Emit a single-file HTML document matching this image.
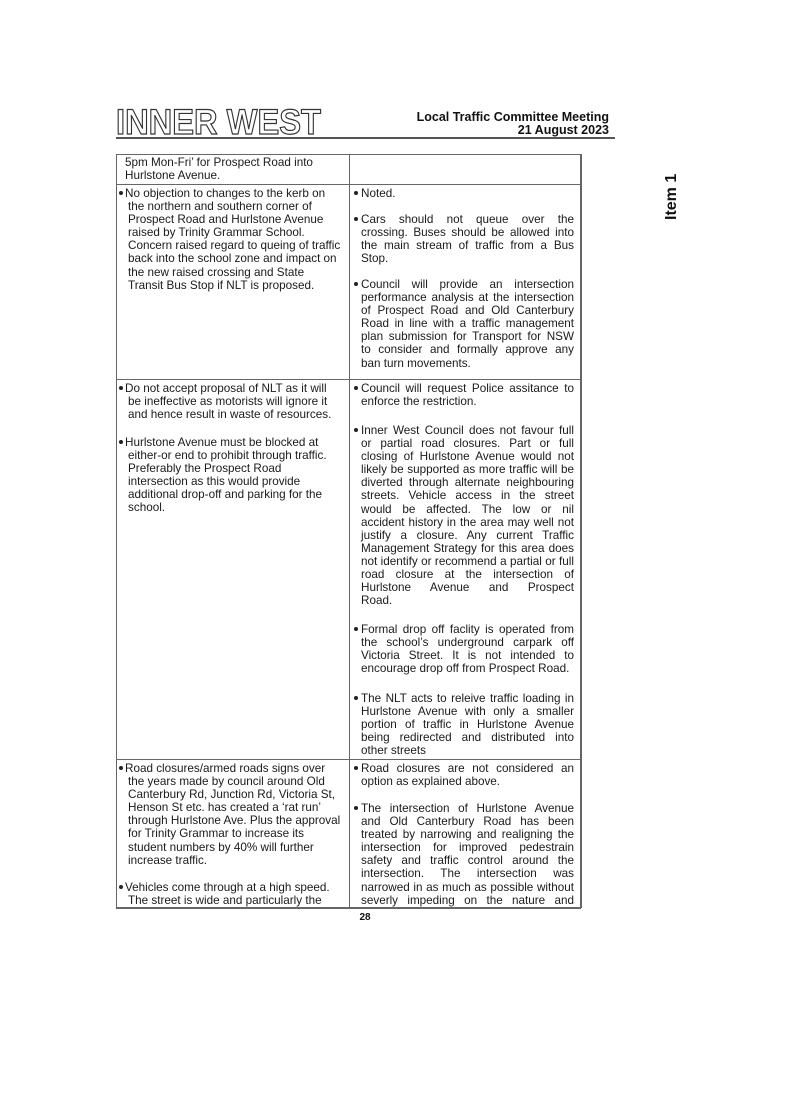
<!DOCTYPE html>
<html><head><meta charset="utf-8"><style>
html,body{margin:0;padding:0;background:#fff;}
body{width:785px;height:1109px;position:relative;overflow:hidden;font-family:"Liberation Sans",Arial,sans-serif;color:#1a1a1a;}
.p{position:absolute;font-size:11.7px;line-height:13.1px;white-space:nowrap;}
.L{left:128px;width:215px;}
.R{left:361px;width:213px;}
.R div{text-align:justify;text-align-last:justify;}
.R div.e{text-align-last:left;}
.b{position:absolute;width:4px;height:4px;border-radius:50%;background:#222;margin-top:-2px;margin-left:-1px;}
.hl{position:absolute;background:#666;height:1px;}
.vl{position:absolute;background:#666;width:1px;}
</style></head><body>

<svg style="position:absolute;left:0;top:0" width="785" height="1109">
<text x="116" y="134" textLength="205" lengthAdjust="spacingAndGlyphs" font-family="Liberation Sans" font-weight="bold" font-size="35" fill="none" stroke="#333" stroke-width="1.2">INNER WEST</text>
<line x1="116" y1="138" x2="615" y2="138" stroke="#555" stroke-width="2"/>
<text x="609" y="121" text-anchor="end" font-family="Liberation Sans" font-weight="bold" font-size="12.5" fill="#111">Local Traffic Committee Meeting</text>
<text x="609" y="134" text-anchor="end" font-family="Liberation Sans" font-weight="bold" font-size="12.5" fill="#111">21 August 2023</text>
<text transform="translate(676,220) rotate(-90)" font-family="Liberation Sans" font-weight="bold" font-size="16" fill="#111">Item 1</text>
<text x="365" y="920" text-anchor="middle" font-family="Liberation Sans" font-weight="bold" font-size="10" fill="#111">28</text>
</svg>

<div class="hl" style="left:116px;top:154px;width:465px"></div>
<div class="hl" style="left:116px;top:184px;width:465px"></div>
<div class="hl" style="left:116px;top:379px;width:465px"></div>
<div class="hl" style="left:116px;top:759px;width:465px"></div>
<div class="hl" style="left:116px;top:907px;width:465px;height:1.5px"></div>
<div class="vl" style="left:116px;top:154px;height:754px"></div>
<div class="vl" style="left:349px;top:154px;height:754px"></div>
<div class="vl" style="left:580px;top:154px;height:754px;width:1.5px"></div>

<div class="p L" style="top:156px;left:125px"><div>5pm Mon-Fri’ for Prospect Road into</div><div>Hurlstone Avenue.</div></div>

<div class="b" style="left:120px;top:193px"></div>
<div class="p L" style="top:187px"><div style="margin-left:-3px">No objection to changes to the kerb on</div><div>the northern and southern corner of</div><div>Prospect Road and Hurlstone Avenue</div><div>raised by Trinity Grammar School.</div><div>Concern raised regard to queing of traffic</div><div>back into the school zone and impact on</div><div>the new raised crossing and State</div><div>Transit Bus Stop if NLT is proposed.</div></div>

<div class="b" style="left:355px;top:193px"></div>
<div class="p R" style="top:187px"><div class="e">Noted.</div></div>
<div class="b" style="left:355px;top:219px"></div>
<div class="p R" style="top:213px"><div>Cars should not queue over the</div><div>crossing. Buses should be allowed into</div><div>the main stream of traffic from a Bus</div><div class="e">Stop.</div></div>
<div class="b" style="left:355px;top:284px"></div>
<div class="p R" style="top:278px"><div>Council will provide an intersection</div><div>performance analysis at the intersection</div><div>of Prospect Road and Old Canterbury</div><div>Road in line with a traffic management</div><div>plan submission for Transport for NSW</div><div>to consider and formally approve any</div><div class="e">ban turn movements.</div></div>

<div class="b" style="left:120px;top:388px"></div>
<div class="p L" style="top:382px"><div style="margin-left:-3px">Do not accept proposal of NLT as it will</div><div>be ineffective as motorists will ignore it</div><div>and hence result in waste of resources.</div></div>
<div class="b" style="left:120px;top:442px"></div>
<div class="p L" style="top:436px"><div style="margin-left:-3px">Hurlstone Avenue must be blocked at</div><div>either-or end to prohibit through traffic.</div><div>Preferably the Prospect Road</div><div>intersection as this would provide</div><div>additional drop-off and parking for the</div><div>school.</div></div>

<div class="b" style="left:355px;top:388px"></div>
<div class="p R" style="top:382px"><div>Council will request Police assitance to</div><div class="e">enforce the restriction.</div></div>
<div class="b" style="left:355px;top:430px"></div>
<div class="p R" style="top:424px"><div>Inner West Council does not favour full</div><div>or partial road closures. Part or full</div><div>closing of Hurlstone Avenue would not</div><div>likely be supported as more traffic will be</div><div>diverted through alternate neighbouring</div><div>streets. Vehicle access in the street</div><div>would be affected. The low or nil</div><div>accident history in the area may well not</div><div>justify a closure. Any current Traffic</div><div>Management Strategy for this area does</div><div>not identify or recommend a partial or full</div><div>road closure at the intersection of</div><div>Hurlstone Avenue and Prospect</div><div class="e">Road.</div></div>
<div class="b" style="left:355px;top:629px"></div>
<div class="p R" style="top:623px"><div>Formal drop off faclity is operated from</div><div>the school’s underground carpark off</div><div>Victoria Street. It is not intended to</div><div class="e">encourage drop off from Prospect Road.</div></div>
<div class="b" style="left:355px;top:698px"></div>
<div class="p R" style="top:692px"><div>The NLT acts to releive traffic loading in</div><div>Hurlstone Avenue with only a smaller</div><div>portion of traffic in Hurlstone Avenue</div><div>being redirected and distributed into</div><div class="e">other streets</div></div>

<div class="b" style="left:120px;top:768px"></div>
<div class="p L" style="top:762px"><div style="margin-left:-3px">Road closures/armed roads signs over</div><div>the years made by council around Old</div><div>Canterbury Rd, Junction Rd, Victoria St,</div><div>Henson St etc. has created a ‘rat run’</div><div>through Hurlstone Ave. Plus the approval</div><div>for Trinity Grammar to increase its</div><div>student numbers by 40% will further</div><div>increase traffic.</div></div>
<div class="b" style="left:120px;top:887px"></div>
<div class="p L" style="top:881px"><div style="margin-left:-3px">Vehicles come through at a high speed.</div><div>The street is wide and particularly the</div></div>

<div class="b" style="left:355px;top:768px"></div>
<div class="p R" style="top:762px"><div>Road closures are not considered an</div><div class="e">option as explained above.</div></div>
<div class="b" style="left:355px;top:808px"></div>
<div class="p R" style="top:802px"><div>The intersection of Hurlstone Avenue</div><div>and Old Canterbury Road has been</div><div>treated by narrowing and realigning the</div><div>intersection for improved pedestrain</div><div>safety and traffic control around the</div><div>intersection. The intersection was</div><div>narrowed in as much as possible without</div><div>severly impeding on the nature and</div></div>

</body></html>
